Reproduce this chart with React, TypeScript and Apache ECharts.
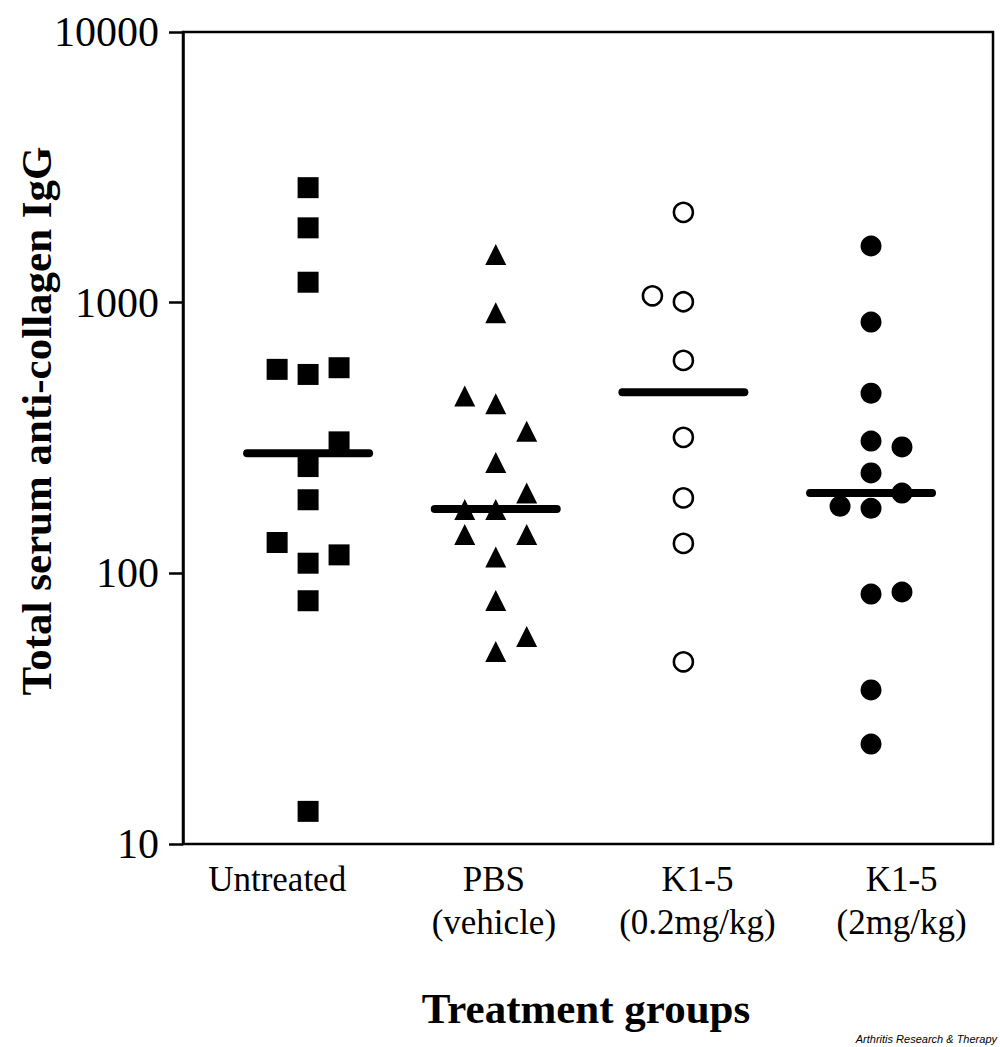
import React, { useEffect, useRef } from "react";
import * as echarts from "echarts";

const groupLabels = ["Untreated", "PBS\n(vehicle)", "K1-5\n(0.2mg/kg)", "K1-5\n(2mg/kg)"];
const yTicks = [10, 100, 1000, 10000];

// values; column index: -1 left, 0 centre, 1 right
const untreatedVals = [2660, 1890, 1190, 567, 543, 575, 306, 248, 187, 130, 109, 117, 79.2, 13.2];
const untreatedCols = [0, 0, 0, -1, 0, 1, 1, 0, 0, -1, 0, 1, 0, 0];
const pbsVals = [1506, 917, 452, 423, 335, 257, 198, 172, 172, 139, 139, 115, 79.4, 58.4, 51.4];
const pbsCols = [0, 0, -1, 0, 1, 0, 1, -1, 0, -1, 1, 0, 0, 1, 0];
const k02Vals = [2156, 1060, 1008, 612, 318, 190, 129, 47.1];
const k02Cols = [0, -1, 0, 0, 0, 0, 0, 0];
const k2Vals = [1619, 848, 463, 308, 293, 235, 198, 177, 174, 83.8, 85.3, 37.1, 23.4];
const k2Cols = [0, 0, 0, 0, 1, 0, 1, -1, 0, 0, 1, 0, 0];
const medians = [278, 173, 467, 198];

// layout: where the group labels sit along the x axis (in group units)
const LABEL_AT = [0.835, 1.99, 3.075, 4.163];

const SERIF = "'Liberation Serif', 'Times New Roman', serif";

export default function App() {
  const ref = useRef<HTMLDivElement>(null);
  useEffect(() => {
    document.body.style.margin = "0";
    const chart = echarts.init(ref.current!, undefined, { renderer: "svg" });
    const JIT = 0.165;
    const pts = (vals: number[], cols: number[], g: number) =>
      vals.map((v, i) => [g + cols[i] * JIT, v]);
    const labelFor = (v: number) => {
      let best = 0;
      LABEL_AT.forEach((p, i) => {
        if (Math.abs(p - v) < Math.abs(LABEL_AT[best] - v)) best = i;
      });
      return groupLabels[best];
    };

    chart.setOption({
      animation: false,
      grid: {
        left: 183,
        right: 7,
        top: 32,
        bottom: 203,
        show: true,
        borderColor: "#000",
        borderWidth: 2.5,
        backgroundColor: "transparent",
      },
      xAxis: {
        type: "value",
        min: 1 / 3,
        max: 4.65,
        axisLine: { show: false },
        axisTick: { show: false },
        splitLine: { show: false },
        axisLabel: {
          customValues: LABEL_AT,
          formatter: (v: number) => labelFor(v),
          fontFamily: SERIF,
          fontSize: 35,
          lineHeight: 43,
          color: "#000",
          margin: 14,
        },
      },
      yAxis: {
        type: "log",
        logBase: 10,
        min: 10,
        max: 10000,
        axisLine: { show: true, lineStyle: { color: "#000", width: 2.5 } },
        axisTick: { show: true, inside: false, length: 14, lineStyle: { color: "#000", width: 2.5 } },
        splitLine: { show: false },
        minorTick: { show: false },
        axisLabel: {
          customValues: yTicks,
          formatter: (v: number) => String(Math.round(v)),
          fontFamily: SERIF,
          fontSize: 42,
          color: "#000",
          margin: 24,
        },
      },
      series: [
        {
          type: "scatter",
          symbol: "rect",
          symbolSize: 21,
          itemStyle: { color: "#000", opacity: 1 },
          data: pts(untreatedVals, untreatedCols, 1),
        },
        {
          type: "scatter",
          symbol: "triangle",
          symbolSize: 21,
          itemStyle: { color: "#000", opacity: 1 },
          data: pts(pbsVals, pbsCols, 2),
        },
        {
          type: "scatter",
          symbol: "circle",
          symbolSize: 19,
          itemStyle: { color: "#fff", borderColor: "#000", borderWidth: 2.6, opacity: 1 },
          data: pts(k02Vals, k02Cols, 3),
        },
        {
          type: "scatter",
          symbol: "circle",
          symbolSize: 21,
          itemStyle: { color: "#000", opacity: 1 },
          data: pts(k2Vals, k2Cols, 4),
        },
        {
          type: "custom",
          z: 5,
          encode: { x: 0, y: 1 },
          data: medians.map((m, i) => [i + 1, m]),
          renderItem: (_params: any, api: any) => {
            const x = api.value(0);
            const y = api.value(1);
            const p1 = api.coord([x - 0.325, y]);
            const p2 = api.coord([x + 0.325, y]);
            return {
              type: "line",
              shape: { x1: p1[0], y1: p1[1], x2: p2[0], y2: p2[1] },
              style: { stroke: "#000", lineWidth: 8, lineCap: "round" },
            };
          },
        },
      ],
      graphic: [
        {
          type: "text",
          x: 36,
          y: 421,
          rotation: Math.PI / 2,
          style: {
            text: "Total serum anti-collagen IgG",
            font: `bold 43px ${SERIF}`,
            fill: "#000",
            textAlign: "center",
            textVerticalAlign: "middle",
          },
        },
        {
          type: "text",
          x: 586,
          y: 1008,
          style: {
            text: "Treatment groups",
            font: `bold 43px ${SERIF}`,
            fill: "#000",
            textAlign: "center",
            textVerticalAlign: "middle",
          },
        },
        {
          type: "text",
          right: 3,
          bottom: 3,
          style: {
            text: "Arthritis Research & Therapy",
            font: "italic 11px 'Liberation Sans', Arial, sans-serif",
            fill: "#000",
          },
        },
      ],
    });
    return () => chart.dispose();
  }, []);
  return <div ref={ref} style={{ width: 1000, height: 1047 }} />;
}
